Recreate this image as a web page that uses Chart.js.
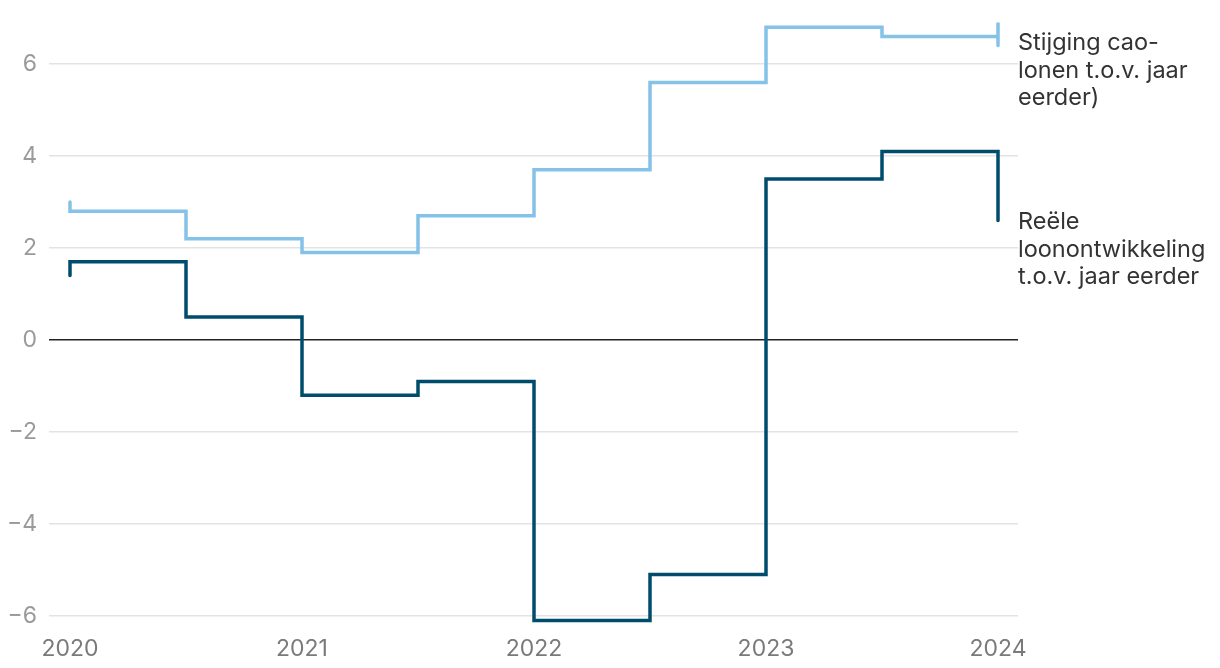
<!DOCTYPE html>
<html>
<head>
<meta charset="utf-8">
<script src="https://cdn.jsdelivr.net/npm/chart.js@4/dist/chart.umd.min.js"></script>
<style>
html,body{margin:0;padding:0;background:#fff;}
#wrap{width:1220px;height:668px;position:relative;}
</style>
</head>
<body>
<div id="wrap"><canvas id="c" width="1220" height="668"></canvas></div>
<script>
// Data (step series: x = year position, y = percentage)
const caoX = [2020, 2020, 2020.5, 2021, 2021.5, 2022, 2022.5, 2023, 2023.5, 2024, 2024];
const caoY = [3.0, 2.8, 2.2, 1.9, 2.7, 3.7, 5.6, 6.8, 6.6, 6.9, 6.4];
const reelX = [2020, 2020, 2020.5, 2021, 2021.5, 2022, 2022.5, 2023, 2023.5, 2024];
const reelY = [1.4, 1.7, 0.5, -1.2, -0.9, -6.1, -5.1, 3.5, 4.1, 2.6];
const xTicks = [2020, 2021, 2022, 2023, 2024];
const yTicks = [-6, -4, -2, 0, 2, 4, 6];
const caoLabel = ["Stijging cao-", "lonen t.o.v. jaar", "eerder)"];
const reelLabel = ["Reële", "loonontwikkeling", "t.o.v. jaar eerder"];

const FONT = "Inter, 'Noto Sans', sans-serif";

const toPts = (xs, ys) => xs.map((x, i) => ({x: x, y: ys[i]}));

const labelPlugin = {
  id: 'endLabels',
  afterDraw(chart) {
    const ctx = chart.ctx;
    ctx.save();
    ctx.fillStyle = '#333';
    ctx.font = '23.5px ' + FONT;
    ctx.textBaseline = 'middle';
    ctx.textAlign = 'left';
    const x = chart.chartArea.right;
    caoLabel.forEach((t, i) => ctx.fillText(t, x, 43 + i * 27.5));
    reelLabel.forEach((t, i) => ctx.fillText(t, x, 222 + i * 27.5));
    ctx.restore();
  }
};

new Chart(document.getElementById('c'), {
  type: 'line',
  data: {
    datasets: [
      {
        data: toPts(caoX, caoY),
        borderColor: '#85c2e8',
        borderWidth: 3.5,
        stepped: 'before',
        pointRadius: 0,
        borderCapStyle: 'round',
        borderJoinStyle: 'miter',
        fill: false
      },
      {
        data: toPts(reelX, reelY),
        borderColor: '#004c6d',
        borderWidth: 3.5,
        stepped: 'before',
        pointRadius: 0,
        borderCapStyle: 'round',
        borderJoinStyle: 'miter',
        fill: false
      }
    ]
  },
  options: {
    responsive: false,
    animation: false,
    layout: {padding: {left: 0, right: 1220 - 1018, top: 10, bottom: 0}},
    plugins: {legend: {display: false}, tooltip: {enabled: false}},
    scales: {
      x: {
        type: 'linear',
        min: 2020 - 21 / 232,
        max: 2024 + 20 / 232,
        afterBuildTicks(scale) { scale.ticks = xTicks.map(v => ({value: v})); },
        afterFit(scale) { scale.height = 38; scale.paddingLeft = 0; scale.paddingRight = 0; },
        grid: {display: false, drawTicks: false},
        border: {display: false},
        ticks: {
          padding: 5,
          color: '#7a7a7a',
          font: {family: FONT, size: 23},
          callback: v => String(v),
          maxRotation: 0
        }
      },
      y: {
        type: 'linear',
        min: -6 - 14 / 46,
        max: 6 + 54 / 46,
        afterBuildTicks(scale) { scale.ticks = yTicks.map(v => ({value: v})); },
        afterFit(scale) { scale.width = 49; scale.paddingTop = 0; scale.paddingBottom = 0; },
        border: {display: false},
        grid: {
          drawTicks: false,
          color: ctx => (ctx.tick && ctx.tick.value === 0) ? '#222' : '#e3e3e3',
          lineWidth: ctx => (ctx.tick && ctx.tick.value === 0) ? 1.5 : 1.5
        },
        ticks: {
          padding: 12,
          color: '#9a9a9a',
          font: {family: FONT, size: 23},
          callback: v => v < 0 ? '\u2212' + Math.abs(v) : String(v)
        }
      }
    }
  },
  plugins: [labelPlugin]
});
</script>
</body>
</html>
